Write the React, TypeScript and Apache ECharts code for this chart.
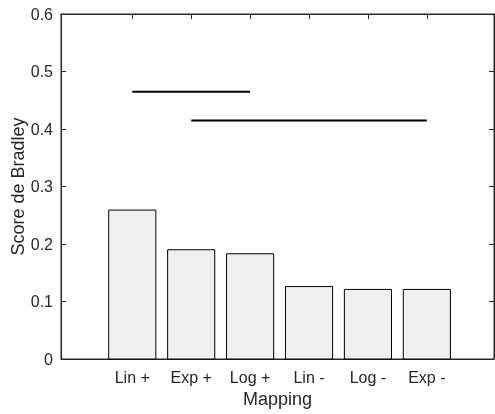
import React, { useEffect, useRef } from "react";
import * as echarts from "echarts";

const categories = ["Lin +", "Exp +", "Log +", "Lin -", "Log -", "Exp -"];
const positions = [1, 2, 3, 4, 5, 6];
const scores = [0.259, 0.19, 0.183, 0.126, 0.121, 0.121];
const sigLine1 = [[1, 0.465], [3, 0.465]];
const sigLine2 = [[2, 0.415], [6, 0.415]];

const AXIS = "#262626";
const FONT = "'Liberation Sans', Arial, Helvetica, sans-serif";

export default function App() {
  const ref = useRef<HTMLDivElement>(null);
  useEffect(() => {
    if (!ref.current) return;
    const chart = echarts.init(ref.current, null, { renderer: "svg" });
    const barData = positions.map((p, i) => [p, scores[i]]);
    const mkLine = () => ({ show: true, onZero: false, lineStyle: { color: AXIS, width: 1 } });
    const mkTick = (custom?: number[]) => {
      const t: any = { show: true, inside: true, length: 5, lineStyle: { color: AXIS, width: 1 } };
      if (custom) t.customValues = custom;
      return t;
    };
    chart.setOption({
      animation: false,
      grid: {
        left: 61,
        top: 14,
        right: 1,
        bottom: 55,
        containLabel: false,
        outerBoundsMode: "none",
        show: true,
        borderColor: AXIS,
        borderWidth: 1,
        backgroundColor: "transparent",
      },
      xAxis: [
        {
          type: "value",
          min: -0.21,
          max: 7.14,
          position: "bottom",
          axisLine: mkLine(),
          axisTick: mkTick(positions),
          axisLabel: {
            customValues: positions,
            formatter: (v: number) => categories[Math.round(v) - 1] ?? "",
            color: AXIS,
            fontSize: 16,
            fontFamily: FONT,
            margin: 10,
          },
          splitLine: { show: false },
          name: "Mapping",
          nameLocation: "middle",
          nameGap: 31,
          nameMoveOverlap: false,
          nameTextStyle: { color: AXIS, fontSize: 18, fontFamily: FONT },
        },
        {
          type: "value",
          min: -0.21,
          max: 7.14,
          position: "top",
          axisLine: mkLine(),
          axisTick: mkTick(positions),
          axisLabel: { show: false },
          splitLine: { show: false },
        },
      ],
      yAxis: [
        {
          type: "value",
          min: 0,
          max: 0.6,
          interval: 0.1,
          position: "left",
          axisLine: mkLine(),
          axisTick: mkTick(),
          axisLabel: { color: AXIS, fontSize: 16, fontFamily: FONT, margin: 8 },
          splitLine: { show: false },
          name: "Score de Bradley",
          nameLocation: "middle",
          nameGap: 34,
          nameMoveOverlap: false,
          nameTextStyle: { color: AXIS, fontSize: 18, fontFamily: FONT },
        },
        {
          type: "value",
          min: 0,
          max: 0.6,
          interval: 0.1,
          position: "right",
          axisLine: mkLine(),
          axisTick: mkTick(),
          axisLabel: { show: false },
          splitLine: { show: false },
        },
      ],
      series: [
        {
          type: "custom",
          xAxisIndex: 0,
          yAxisIndex: 0,
          data: barData,
          renderItem: (params: any, api: any) => {
            const x = api.value(0);
            const y = api.value(1);
            const p0 = api.coord([x - 0.4, y]);
            const p1 = api.coord([x + 0.4, 0]);
            return {
              type: "rect",
              shape: { x: p0[0], y: p0[1], width: p1[0] - p0[0], height: p1[1] - p0[1] },
              style: { fill: "#f0f0f0", stroke: "#000", lineWidth: 1 },
            };
          },
          z: 2,
        },
        {
          type: "line",
          data: sigLine1,
          symbol: "none",
          lineStyle: { color: "#000", width: 2 },
          z: 3,
        },
        {
          type: "line",
          data: sigLine2,
          symbol: "none",
          lineStyle: { color: "#000", width: 2 },
          z: 3,
        },
      ],
    });
    return () => chart.dispose();
  }, []);
  return (
    <div
      ref={ref}
      style={{ position: "fixed", left: 0, top: 0, width: 495, height: 414 }}
    />
  );
}
